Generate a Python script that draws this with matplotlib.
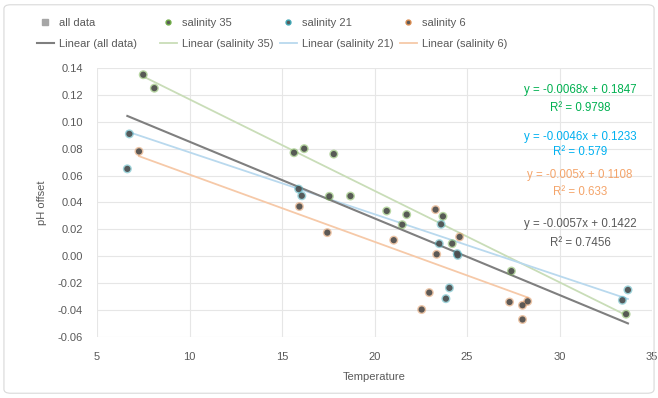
import numpy as np
import matplotlib
matplotlib.use("Agg")
import matplotlib.pyplot as plt
from matplotlib.patches import FancyBboxPatch
from matplotlib.lines import Line2D

# Werte
temp_35 = [7.5, 8.1, 15.65, 16.2, 17.8, 17.56, 18.7, 20.66, 21.74, 21.5, 23.7, 24.2, 27.4, 33.6]
ph_35 = [0.135, 0.125, 0.077, 0.080, 0.076, 0.0446, 0.0448, 0.0337, 0.031, 0.0235, 0.0297, 0.0094, -0.011, -0.043]

temp_21 = [6.75, 6.64, 15.9, 16.07, 23.6, 23.5, 24.47, 24.5, 24.05, 23.86, 33.4, 33.7]
ph_21 = [0.091, 0.065, 0.050, 0.045, 0.0238, 0.0094, 0.002, 0.0007, -0.0235, -0.0315, -0.0327, -0.025]

temp_6 = [7.27, 15.94, 17.45, 21.04, 23.3, 23.36, 24.6, 22.96, 22.55, 27.3, 28.0, 28.28, 28.0]
ph_6 = [0.078, 0.037, 0.0176, 0.012, 0.0347, 0.0015, 0.0144, -0.027, -0.0396, -0.034, -0.0364, -0.0335, -0.047]

# Trendlinien laut Beschriftung im Diagramm
series_names = ["salinity 35", "salinity 21", "salinity 6"]
slopes = [-0.0068, -0.0046, -0.005]
intercepts = [0.1847, 0.1233, 0.1108]
r2_labels = ["0.9798", "0.579", "0.633"]
slope_all = -0.0057
intercept_all = 0.1422
r2_all = "0.7456"

marker_colors = ["#70AD47", "#3FA7B5", "#D98A4E"]
line_colors = ["#C9DDB8", "#B9D9EE", "#F6C9A8"]
text_colors = ["#00B050", "#00B0F0", "#F4A46A"]
grey = "#595959"

plt.rcParams["font.family"] = ["Liberation Sans", "DejaVu Sans"]
fs = 8

temps = [temp_35, temp_21, temp_6]
phs = [ph_35, ph_21, ph_6]
temp_all = temp_35 + temp_21 + temp_6
ph_all = ph_35 + ph_21 + ph_6

W, H = 658, 398
fig = plt.figure(figsize=(W / 100, H / 100), dpi=100)
ax = fig.add_axes([97 / W, 1 - 337 / H, 555 / W, 269 / H])

# Rahmen des Diagrammbereichs
fig.patches.append(FancyBboxPatch((0.006, 0.012), 0.988, 0.976, boxstyle="round,pad=0,rounding_size=0.01",
                                  transform=fig.transFigure, fill=False, edgecolor="#D9D9D9", lw=0.8))

for t, p, c in zip(temps, phs, marker_colors):
    ax.scatter(t, p, s=42, color=c, alpha=0.5, edgecolors="none", zorder=3)

ax.scatter(temp_all, ph_all, s=20, color="#4D4D4D", alpha=0.9, edgecolors="none", zorder=4)

for t, m, b, c in zip(temps, slopes, intercepts, line_colors):
    xs = np.array([min(t), max(t)])
    ax.plot(xs, m * xs + b, color=c, lw=1.3, zorder=2)

xs = np.array([min(temp_all), max(temp_all)])
ax.plot(xs, slope_all * xs + intercept_all, color="#7F7F7F", lw=1.5, zorder=2)

ax.set_xlim(5, 35)
ax.set_ylim(-0.06, 0.14)
ax.set_xticks(np.arange(5, 36, 5))
ax.set_yticks(np.arange(-0.06, 0.141, 0.02))
ax.yaxis.set_major_formatter(plt.FuncFormatter(lambda v, _: f"{v:.2f}"))
ax.grid(True, color="#E6E6E6", lw=0.8)
ax.set_axisbelow(True)
for s in ax.spines.values():
    s.set_visible(False)
ax.tick_params(length=0, labelsize=fs, labelcolor=grey)
ax.tick_params(axis="y", pad=10)
ax.tick_params(axis="x", pad=11)
ax.set_xlabel("Temperature", fontsize=fs, color=grey, labelpad=7)
ax.set_ylabel("pH offset", fontsize=fs, color=grey, labelpad=8)

# Gleichungen
eq_y = [(90, 108), (137, 152), (175, 192), (224, 243)]
labels = [(f"y = {m:.4g}x + {b}", f"R² = {r}") for m, b, r in zip(slopes, intercepts, r2_labels)]
labels.append((f"y = {slope_all}x + {intercept_all}", f"R² = {r2_all}"))
cols = text_colors + [grey]
for (y1, y2), (l1, l2), c in zip(eq_y, labels, cols):
    fig.text(580 / W, 1 - y1 / H, l1, color=c, fontsize=8.3, ha="center", va="center")
    fig.text(580 / W, 1 - y2 / H, l2, color=c, fontsize=8.3, ha="center", va="center")

# Legende: vier Spalten mit festen Abständen
col_x = [37, 160, 280, 400]
legend_groups = [([Line2D([], [], ls="none", marker="s", ms=4, color="#A6A6A6"),
                   Line2D([], [], color="#7F7F7F", lw=1.5)],
                  ["all data", "Linear (all data)"])]
for n, mc, lc in zip(series_names, marker_colors, line_colors):
    legend_groups.append(([Line2D([], [], ls="none", marker="o", ms=3.5, color=grey, markeredgecolor=mc),
                           Line2D([], [], color=lc, lw=1.3)],
                          [n, f"Linear ({n})"]))
for x, (hs, ns) in zip(col_x, legend_groups):
    fig.legend(hs, ns, loc="upper left", bbox_to_anchor=(x / W, 1 - 18 / H), frameon=False,
               fontsize=fs, labelcolor=grey, handlelength=1.5, handletextpad=0.45,
               labelspacing=0.95, borderpad=0, borderaxespad=0)

fig.savefig("out.png", dpi=100)
